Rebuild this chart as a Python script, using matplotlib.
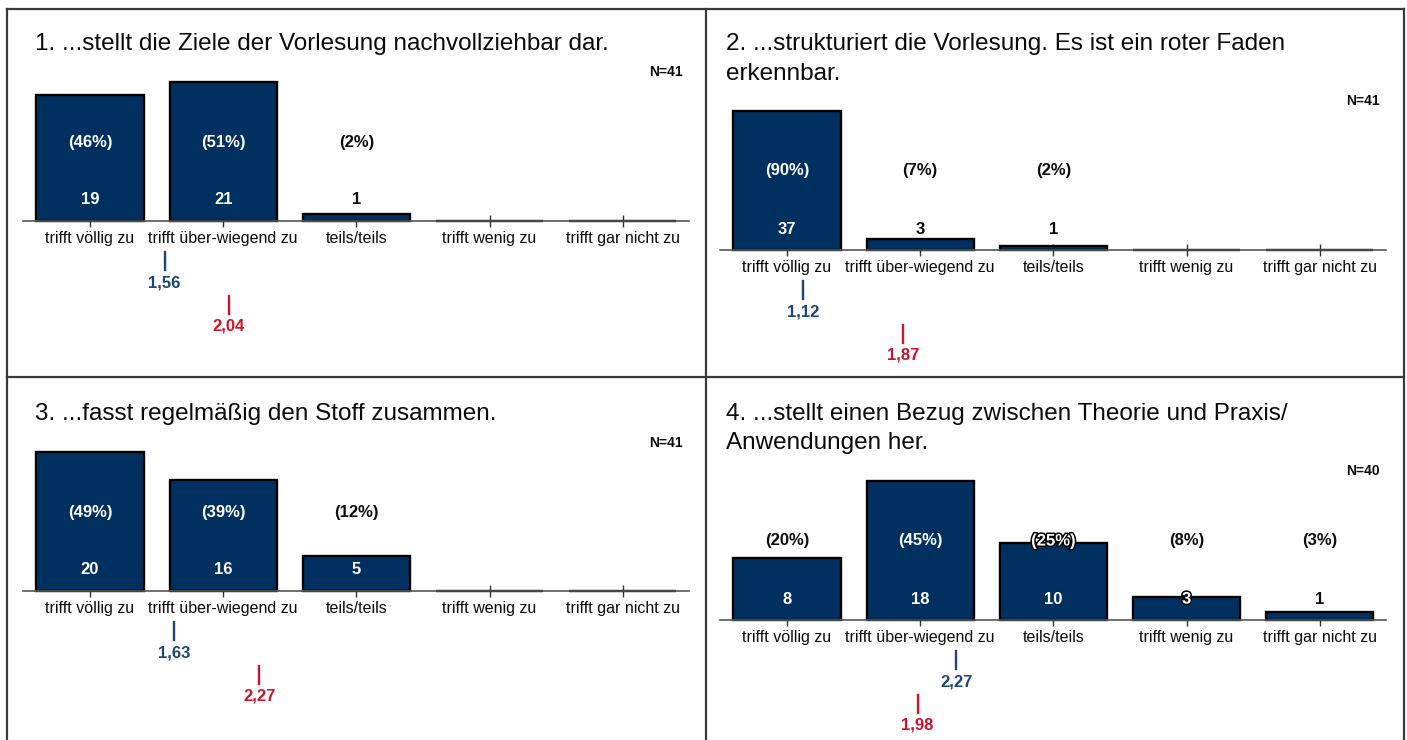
import matplotlib
matplotlib.use("Agg")
import matplotlib.pyplot as plt
import matplotlib.patheffects as pe
from matplotlib.lines import Line2D

plt.rcParams['font.family'] = ['Liberation Sans', 'DejaVu Sans']

categories = ["trifft völlig zu", "trifft über-wiegend zu", "teils/teils",
              "trifft wenig zu", "trifft gar nicht zu"]

titles = [
    "1. ...stellt die Ziele der Vorlesung nachvollziehbar dar.",
    "2. ...strukturiert die Vorlesung. Es ist ein roter Faden\nerkennbar.",
    "3. ...fasst regelmäßig den Stoff zusammen.",
    "4. ...stellt einen Bezug zwischen Theorie und Praxis/\nAnwendungen her.",
]

counts_q1 = [19, 21, 1, 0, 0]
counts_q2 = [37, 3, 1, 0, 0]
counts_q3 = [20, 16, 5, 0, 0]
counts_q4 = [8, 18, 10, 3, 1]

pct_q1 = [46, 51, 2, 0, 0]
pct_q2 = [90, 7, 2, 0, 0]
pct_q3 = [49, 39, 12, 0, 0]
pct_q4 = [20, 45, 25, 8, 3]

n_values = [41, 41, 41, 40]
mean_course = [1.56, 1.12, 1.63, 2.27]
mean_compare = [2.04, 1.87, 2.27, 1.98]

counts_all = [counts_q1, counts_q2, counts_q3, counts_q4]
pct_all = [pct_q1, pct_q2, pct_q3, pct_q4]

W, H = 1407, 740
fig = plt.figure(figsize=(W / 100, H / 100), dpi=100)

BAR = "#003060"
BLUE = "#1c4673"
RED = "#d0112b"
TXT = "#0a0a0a"

# panel layout in pixels: (x of first category centre, baseline y, title x, N x, title baseline y, N y)
layout = [
    (90, 221, 35, 683, 50, 72),
    (787, 250, 726, 1380, 50, 101),
    (90, 591, 35, 683, 420, 443),
    (787, 620, 726, 1380, 420, 471),
]
STEP = 133.2
BARPX = 139.0
ABOVE, BELOW = 150, 118
LINE_GAP = 29.5

for i in range(4):
    x0, base, tx, nx, ty, ny = layout[i]
    counts = counts_all[i]
    pcts = pct_all[i]
    mx = max(counts)
    k = mx / BARPX  # data units per pixel

    left = x0 - STEP / 2
    ax = fig.add_axes([left / W, (H - base - BELOW) / H, 5 * STEP / W, (ABOVE + BELOW) / H])
    ax.set_xlim(-0.5, 4.5)
    ax.set_ylim(-BELOW * k, ABOVE * k)
    ax.patch.set_alpha(0)
    xs = list(range(5))
    ax.bar(xs, counts, width=0.805, color=BAR, edgecolor="black", linewidth=1.7, zorder=2)

    for s in ["left", "right", "top"]:
        ax.spines[s].set_visible(False)
    ax.spines["bottom"].set_position(("data", 0))
    ax.spines["bottom"].set_color("#555555")
    ax.spines["bottom"].set_linewidth(1.2)
    ax.spines["bottom"].set_zorder(3)
    ax.set_yticks([])
    ax.set_xticks(xs)
    ax.set_xticklabels(categories, fontsize=11.5, color=TXT)
    ax.tick_params(axis="x", direction="inout", length=8, width=1.0, color="#333333", pad=3.5)

    for j in range(5):
        c = counts[j]
        if c == 0:
            continue
        h = c / k
        for off, label in ((79, f"({pcts[j]}%)"), (21, f"{c}")):
            if h >= off + 8:
                col, eff = "white", None
            elif h >= off - 8:
                col, eff = "white", [pe.withStroke(linewidth=2.2, foreground="black")]
            else:
                col, eff = TXT, None
            t = ax.text(j, off * k, label, ha="center", va="center", fontsize=12,
                        fontweight="bold", color=col, zorder=4)
            if eff:
                t.set_path_effects(eff)

    # mean markers
    mb = mean_course[i] - 1
    mr = mean_compare[i] - 1
    ax.plot([mb, mb], [-31 * k, -49 * k], color=BLUE, lw=1.7, clip_on=False)
    ax.text(mb, -62 * k, f"{mean_course[i]:.2f}".replace(".", ","), ha="center", va="center",
            fontsize=12, fontweight="bold", color=BLUE)
    ax.plot([mr, mr], [-75 * k, -93 * k], color=RED, lw=1.7, clip_on=False)
    ax.text(mr, -105 * k, f"{mean_compare[i]:.2f}".replace(".", ","), ha="center", va="center",
            fontsize=12, fontweight="bold", color=RED)

    for n, line in enumerate(titles[i].split("\n")):
        fig.text(tx / W, 1 - (ty + n * LINE_GAP) / H, line, ha="left", va="baseline",
                 fontsize=17.5, color=TXT)
    fig.text(nx / W, 1 - ny / H, f"N={n_values[i]}", ha="right", va="center", fontsize=10,
             fontweight="bold", color=TXT)

# frame lines
FRAME = "#3a3a3a"
def hline(y, x1, x2):
    fig.add_artist(Line2D([x1 / W, x2 / W], [1 - y / H, 1 - y / H], color=FRAME, lw=1.6))
def vline(x, y1, y2):
    fig.add_artist(Line2D([x / W, x / W], [1 - y1 / H, 1 - y2 / H], color=FRAME, lw=1.6))

hline(9, 7, 1404)
hline(377, 7, 1404)
vline(7, 9, 740)
vline(706, 9, 740)
vline(1404, 9, 740)

fig.savefig("out.png", dpi=100)
